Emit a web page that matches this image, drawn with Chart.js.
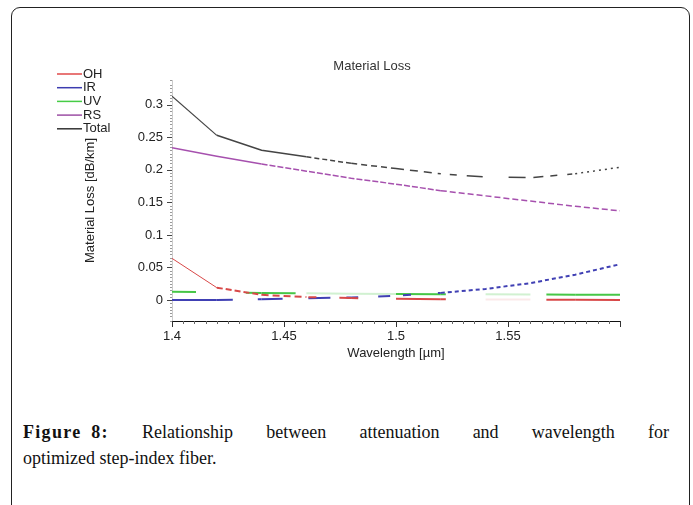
<!DOCTYPE html>
<html>
<head>
<meta charset="utf-8">
<script src="https://cdn.jsdelivr.net/npm/chart.js@4.4.0/dist/chart.umd.min.js"></script>
<style>
  html, body { margin: 0; padding: 0; background: #fff; width: 693px; height: 505px; overflow: hidden; }
  .frame { position: absolute; left: 11px; top: 7px; width: 677px; height: 560px; border: 1.5px solid #222; border-radius: 9px; }
  #chart { position: absolute; left: 0; top: 0; }
  .caption { position: absolute; left: 23px; top: 419px; width: 646px; font-family: "Liberation Serif", "Times New Roman", serif; font-size: 18px; line-height: 26px; color: #111; }
  .caption .first { text-align: justify; text-align-last: justify; }
  .caption .fig { display: inline-block; font-weight: bold; letter-spacing: 1.3px; word-spacing: 4px; }
</style>
</head>
<body>
<div class="frame"></div>
<canvas id="chart" width="693" height="400"></canvas>
<div class="caption">
  <div class="first"><span class="fig">Figure 8:</span> Relationship between attenuation and wavelength for</div>
  <div>optimized step-index fiber.</div>
</div>
<script>
// wavelength in µm, losses in dB/km
const wavelength = [1.40, 1.42, 1.44, 1.46, 1.48, 1.50, 1.52, 1.54, 1.56, 1.58, 1.60];
const ohLoss    = [0.064, 0.019, 0.008, 0.0045, 0.003, 0.0018, 0.0014, 0.001, 0.0007, 0.0004, 0.0002];
const irLoss    = [0.0, 0.0002, 0.0012, 0.0028, 0.004, 0.0065, 0.011, 0.017, 0.026, 0.039, 0.055];
const uvLoss    = [0.0127, 0.0118, 0.011, 0.0104, 0.0098, 0.0094, 0.009, 0.0087, 0.0084, 0.0082, 0.008];
const rsLoss    = [0.234, 0.221, 0.209, 0.198, 0.187, 0.178, 0.168, 0.160, 0.152, 0.144, 0.137];
const totalLoss = [0.313, 0.253, 0.230, 0.220, 0.210, 0.202, 0.194, 0.189, 0.188, 0.194, 0.204];

const seriesNames = ['OH', 'IR', 'UV', 'RS', 'Total'];
const chartTitle = 'Material Loss';
const xTitle = 'Wavelength [µm]';
const yTitle = 'Material Loss [dB/km]';

// dash pattern for each segment between samples; null = faint run
const ohDash    = [[], [6, 3], [7, 4], [0, 2, 8, 23, 30, 0], [7, 100], [], [5, 100], null, [0, 16, 60, 0], []];
const irDash    = [[], [16, 25, 30, 100], [21, 100], [0, 2, 22, 16, 30, 100], [7, 20, 12, 100], [0, 7, 8, 27, 10, 0], [4, 3], [4, 3], [4, 3], [4, 3]];
const uvDash    = [[24, 100], [0, 29, 16, 100], [34, 100], null, null, [], [5, 100], null, [0, 16, 60, 0], []];
const rsDash    = [[], [], [6, 2], [6, 2], [6, 2], [6, 2], [6, 3], [6, 3], [6, 3], [6, 3]];
const totalDash = [[], [], [], [5, 3], [6, 4], [8, 6], [0, 9, 7, 10, 16, 100], [0, 23, 17, 100], [0, 3, 10, 7, 7, 10, 5, 100], [2, 4]];

const points = values => wavelength.map((w, i) => ({ x: w, y: values[i] }));

function segmentStyle(dashes, color, faint, firstWidth) {
  return {
    borderDash: ctx => dashes[ctx.p0DataIndex] || [],
    borderColor: ctx => dashes[ctx.p0DataIndex] === null ? faint : color,
    borderWidth: ctx => (firstWidth && ctx.p0DataIndex === 0) ? firstWidth : undefined
  };
}

const isMajor = v => Math.abs(v / 0.05 - Math.round(v / 0.05)) < 1e-6;
const tickText = v => String(Math.round(v * 100) / 100);

// title, legend and the small axis tick marks
const axisDecor = {
  id: 'axisDecor',
  afterDraw(chart) {
    const { ctx, scales: { x, y } } = chart;
    ctx.save();
    ctx.lineWidth = 1;
    x.ticks.forEach(t => {
      const px = Math.round(x.getPixelForValue(t.value)) + 0.5;
      const major = isMajor(t.value);
      ctx.strokeStyle = major ? '#333' : '#666';
      ctx.beginPath();
      ctx.moveTo(px, x.top);
      ctx.lineTo(px, x.top + (major ? 6 : 3));
      ctx.stroke();
    });
    y.ticks.forEach(t => {
      const py = Math.round(y.getPixelForValue(t.value)) + 0.5;
      const major = isMajor(t.value);
      ctx.strokeStyle = major ? '#444' : '#999';
      ctx.beginPath();
      ctx.moveTo(y.right - (major ? 5 : 2), py);
      ctx.lineTo(y.right, py);
      ctx.stroke();
    });

    ctx.font = '13px "Liberation Sans", Arial, sans-serif';
    ctx.fillStyle = '#333';
    ctx.textAlign = 'center';
    ctx.textBaseline = 'middle';
    ctx.fillText(chartTitle, 372, 66);

    ctx.textAlign = 'left';
    chart.data.datasets.forEach((ds, i) => {
      const ly = 74 + i * 13.7;
      ctx.strokeStyle = ds.legendColor;
      ctx.lineWidth = 1.5;
      ctx.setLineDash([]);
      ctx.beginPath();
      ctx.moveTo(57, ly);
      ctx.lineTo(82, ly);
      ctx.stroke();
      ctx.fillStyle = '#222';
      ctx.fillText(ds.label, 83, ly);
    });
    ctx.restore();
  }
};

Chart.defaults.font.family = '"Liberation Sans", Arial, sans-serif';
Chart.defaults.font.size = 13;
Chart.defaults.color = '#222';

new Chart(document.getElementById('chart').getContext('2d'), {
  type: 'line',
  data: {
    datasets: [
      {
        label: seriesNames[0],
        data: points(ohLoss),
        borderColor: '#d84848',
        legendColor: '#e04a4a',
        borderWidth: 2,
        segment: segmentStyle(ohDash, '#d84848', 'rgba(216,72,72,0.12)', 1)
      },
      {
        label: seriesNames[1],
        data: points(irLoss),
        borderColor: '#4040b4',
        legendColor: '#3c3cb0',
        borderWidth: 2,
        segment: segmentStyle(irDash, '#4040b4', 'rgba(64,64,180,0.12)')
      },
      {
        label: seriesNames[2],
        data: points(uvLoss),
        borderColor: '#46c646',
        legendColor: '#46cc46',
        borderWidth: 2,
        segment: segmentStyle(uvDash, '#46c646', 'rgba(70,198,70,0.25)')
      },
      {
        label: seriesNames[3],
        data: points(rsLoss),
        borderColor: '#a650ae',
        legendColor: '#9c4fa4',
        borderWidth: 1.5,
        segment: segmentStyle(rsDash, '#a650ae', 'rgba(166,80,174,0.2)')
      },
      {
        label: seriesNames[4],
        data: points(totalLoss),
        borderColor: '#444',
        legendColor: '#333',
        borderWidth: 1.5,
        segment: segmentStyle(totalDash, '#444', 'rgba(68,68,68,0.15)', 1.2)
      }
    ]
  },
  options: {
    responsive: false,
    animation: false,
    devicePixelRatio: 1,
    layout: { padding: { left: 79, right: 73, top: 80, bottom: 35 } },
    elements: { point: { radius: 0 }, line: { tension: 0 } },
    plugins: {
      legend: { display: false },
      title: { display: false },
      tooltip: { enabled: false }
    },
    scales: {
      x: {
        type: 'linear',
        min: 1.4,
        max: 1.6,
        afterFit: s => { s.height = 44; },
        border: { display: true, color: '#111', width: 1 },
        grid: { display: false, drawTicks: false },
        ticks: {
          stepSize: 0.005,
          autoSkip: false,
          maxRotation: 0,
          minRotation: 0,
          padding: 8,
          color: '#222',
          callback: v => (isMajor(v) && v < 1.599) ? tickText(v) : ''
        },
        title: { display: true, text: xTitle, color: '#222', padding: { top: 4, bottom: 4 } }
      },
      y: {
        type: 'linear',
        min: -0.0322,
        max: 0.338,
        afterFit: s => { s.width = 93; },
        border: { display: true, color: '#ccc', width: 1 },
        grid: { display: false, drawTicks: false },
        ticks: {
          stepSize: 0.005,
          autoSkip: false,
          padding: 9,
          color: '#222',
          callback: v => isMajor(v) ? tickText(v) : ''
        },
        title: { display: true, text: yTitle, color: '#222', padding: { top: 4, bottom: 4 } }
      }
    }
  },
  plugins: [axisDecor]
});
</script>
</body>
</html>
